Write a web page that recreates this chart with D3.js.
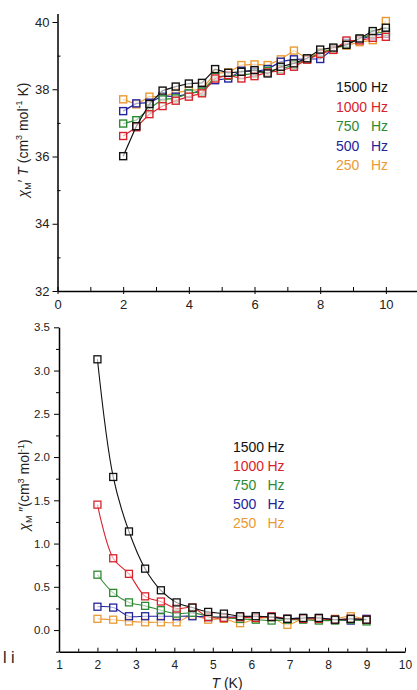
<!DOCTYPE html>
<html>
<head>
<meta charset="utf-8">
<script src="https://cdn.jsdelivr.net/npm/d3@7"></script>
<style>
  body { margin: 0; background: #fff; }
  svg { display: block; font-family: "Liberation Sans", Arial, sans-serif; }
</style>
</head>
<body>
<script>
// Frequencies and colours (legend order)
var freqs = ["1500", "1000", "750", "500", "250"];
var colors = ["#111111", "#d8232c", "#2e8a32", "#23239a", "#eb9a33"];

// chi' T data (top panel), T = 2.0 .. 10.0 step 0.4
var tTop = [2.0, 2.4, 2.8, 3.2, 3.6, 4.0, 4.4, 4.8, 5.2, 5.6, 6.0, 6.4, 6.8, 7.2, 7.6, 8.0, 8.4, 8.8, 9.2, 9.6, 10.0];
var chiT1500 = [36.01, 36.90, 37.56, 37.96, 38.08, 38.17, 38.19, 38.60, 38.49, 38.52, 38.57, 38.47, 38.67, 38.77, 38.92, 39.18, 39.24, 39.32, 39.51, 39.73, 39.83];
var chiT1000 = [36.61, 36.87, 37.26, 37.50, 37.66, 37.78, 37.88, 38.32, 38.42, 38.32, 38.39, 38.50, 38.55, 38.67, 38.88, 39.05, 39.17, 39.45, 39.45, 39.53, 39.56];
var chiT750  = [36.98, 37.08, 37.43, 37.70, 37.73, 37.88, 37.93, 38.37, 38.40, 38.42, 38.47, 38.55, 38.60, 38.72, 38.90, 39.08, 39.20, 39.35, 39.50, 39.65, 39.71];
var chiT500  = [37.35, 37.58, 37.60, 37.80, 37.78, 37.86, 37.97, 38.27, 38.32, 38.55, 38.52, 38.60, 38.82, 38.89, 38.90, 38.90, 39.20, 39.38, 39.48, 39.60, 39.65];
var chiT250  = [37.70, 37.55, 37.78, 37.78, 37.90, 37.96, 38.00, 38.47, 38.50, 38.72, 38.74, 38.72, 38.89, 39.15, 38.92, 39.10, 39.20, 39.30, 39.40, 39.46, 40.03];

// chi'' data (bottom panel), T = 2.0 .. 9.0 (18 points)
var tBot = [2.00, 2.41, 2.82, 3.24, 3.65, 4.06, 4.47, 4.88, 5.29, 5.71, 6.12, 6.53, 6.94, 7.35, 7.76, 8.18, 8.59, 9.00];
var chi1500 = [3.13, 1.77, 1.14, 0.71, 0.46, 0.32, 0.26, 0.21, 0.19, 0.16, 0.16, 0.15, 0.13, 0.14, 0.14, 0.12, 0.13, 0.12];
var chi1000 = [1.45, 0.83, 0.65, 0.39, 0.33, 0.25, 0.26, 0.15, 0.14, 0.15, 0.14, 0.16, 0.13, 0.13, 0.13, 0.12, 0.13, 0.12];
var chi750  = [0.64, 0.43, 0.32, 0.28, 0.23, 0.19, 0.20, 0.16, 0.14, 0.13, 0.12, 0.11, 0.12, 0.12, 0.11, 0.11, 0.12, 0.10];
var chi500  = [0.27, 0.26, 0.16, 0.16, 0.16, 0.16, 0.16, 0.15, 0.15, 0.15, 0.16, 0.15, 0.13, 0.14, 0.14, 0.12, 0.11, 0.13];
var chi250  = [0.13, 0.12, 0.10, 0.09, 0.09, 0.09, 0.17, 0.12, 0.13, 0.08, 0.13, 0.14, 0.06, 0.13, 0.12, 0.13, 0.16, 0.12];

var topSeries = [chiT1500, chiT1000, chiT750, chiT500, chiT250];
var botSeries = [chi1500, chi1000, chi750, chi500, chi250];

var svg = d3.select("body").append("svg")
  .attr("width", 417)
  .attr("height", 690);

// ---------- top panel ----------
var xTop = d3.scaleLinear().domain([0, 11]).range([57.5, 418.7]);
var yTop = d3.scaleLinear().domain([32, 40.25]).range([291, 13.6]);

// x axis: minor ticks inward, major ticks crossing
svg.append("g")
  .attr("transform", "translate(0,291)")
  .call(d3.axisBottom(xTop).tickValues([1, 3, 5, 7, 9]).tickSizeInner(-4).tickSizeOuter(0).tickFormat(""))
  .call(g => g.select(".domain").attr("stroke-width", 1.5));
svg.append("g")
  .attr("transform", "translate(0,291)")
  .call(d3.axisBottom(xTop).tickValues([0, 2, 4, 6, 8, 10]).tickSizeInner(3).tickSizeOuter(0).tickPadding(6).tickFormat(d3.format("d")))
  .call(g => g.select(".domain").remove())
  .call(g => g.selectAll("text").attr("font-size", 13).attr("fill", "#222"));
svg.append("g")
  .attr("transform", "translate(0,291)")
  .call(d3.axisBottom(xTop).tickValues([0, 2, 4, 6, 8, 10]).tickSizeInner(-4).tickSizeOuter(0).tickFormat(""))
  .call(g => g.select(".domain").remove());

// y axis
svg.append("g")
  .attr("transform", "translate(57.5,0)")
  .call(d3.axisLeft(yTop).tickValues([33, 35, 37, 39]).tickSizeInner(-3).tickSizeOuter(0).tickFormat(""))
  .call(g => g.select(".domain").attr("stroke-width", 1.5));
svg.append("g")
  .attr("transform", "translate(57.5,0)")
  .call(d3.axisLeft(yTop).tickValues([32, 34, 36, 38, 40]).tickSizeInner(5).tickSizeOuter(0).tickPadding(3).tickFormat(d3.format("d")))
  .call(g => g.select(".domain").remove())
  .call(g => g.selectAll("text").attr("font-size", 13).attr("fill", "#222"));

var lineTop = d3.line()
  .x((d, i) => xTop(tTop[i]))
  .y(d => yTop(d));

for (var s = topSeries.length - 1; s >= 0; s--) {
  svg.append("path")
    .datum(topSeries[s])
    .attr("fill", "none")
    .attr("stroke", colors[s])
    .attr("stroke-width", 1.2)
    .attr("d", lineTop);
  svg.append("g").selectAll("rect")
    .data(topSeries[s])
    .enter().append("rect")
    .attr("x", (d, i) => xTop(tTop[i]) - 3.5)
    .attr("y", d => yTop(d) - 3.5)
    .attr("width", 7)
    .attr("height", 7)
    .attr("fill", "white")
    .attr("fill-opacity", 0.6)
    .attr("stroke", colors[s])
    .attr("stroke-width", 1.4);
}

// top legend
var legTop = svg.append("g").attr("font-size", 14);
freqs.forEach(function(f, i) {
  var yy = 92 + i * 19.6;
  legTop.append("text").attr("x", 336).attr("y", yy).attr("fill", colors[i]).text(f);
  legTop.append("text").attr("x", 371).attr("y", yy).attr("fill", colors[i]).text("Hz");
});

// top y label
var labTop = svg.append("text")
  .attr("transform", "translate(28,140) rotate(-90)")
  .attr("text-anchor", "middle")
  .attr("font-size", 14)
  .attr("fill", "#222");
labTop.append("tspan").attr("font-style", "italic").text("\u03C7");
labTop.append("tspan").attr("font-size", 9).attr("dy", 3).text("M");
labTop.append("tspan").attr("dy", -3).text("\u2032 ");
labTop.append("tspan").attr("font-style", "italic").text("T");
labTop.append("tspan").text(" (cm");
labTop.append("tspan").attr("font-size", 9).attr("dy", -6).text("3");
labTop.append("tspan").attr("dy", 6).text(" mol");
labTop.append("tspan").attr("font-size", 9).attr("dy", -6).text("-1");
labTop.append("tspan").attr("dy", 6).text(" K)");

// ---------- bottom panel ----------
var xBot = d3.scaleLinear().domain([1, 10]).range([59, 405]);
var yBot = d3.scaleLinear().domain([-0.25, 3.5]).range([651.7, 327.3]);

var halfTicks = d3.range(1.5, 10, 1);
svg.append("g")
  .attr("transform", "translate(0,651.7)")
  .call(d3.axisBottom(xBot).tickValues(halfTicks).tickSizeInner(-3).tickSizeOuter(0).tickFormat(""))
  .call(g => g.select(".domain").attr("stroke-width", 1.5));
svg.append("g")
  .attr("transform", "translate(0,651.7)")
  .call(d3.axisBottom(xBot).tickValues(d3.range(1, 11)).tickSizeInner(-4).tickSizeOuter(0).tickPadding(9).tickFormat(d3.format("d")))
  .call(g => g.select(".domain").remove())
  .call(g => g.selectAll("text").attr("font-size", 12).attr("fill", "#222"));

svg.append("g")
  .attr("transform", "translate(59,0)")
  .call(d3.axisLeft(yBot).tickValues([-0.25, 0.25, 0.75, 1.25, 1.75, 2.25, 2.75, 3.25]).tickSizeInner(3).tickSizeOuter(0).tickFormat(""))
  .call(g => g.select(".domain").attr("stroke-width", 1.5));
svg.append("g")
  .attr("transform", "translate(59,0)")
  .call(d3.axisLeft(yBot).tickValues([0, 0.5, 1, 1.5, 2, 2.5, 3, 3.5]).tickSizeInner(5).tickSizeOuter(0).tickPadding(4).tickFormat(d3.format(".1f")))
  .call(g => g.select(".domain").remove())
  .call(g => g.selectAll("text").attr("font-size", 11.5).attr("fill", "#222"));

var lineBot = d3.line()
  .x((d, i) => xBot(tBot[i]))
  .y(d => yBot(d))
  .curve(d3.curveCatmullRom.alpha(0.5));

for (var k = botSeries.length - 1; k >= 0; k--) {
  svg.append("path")
    .datum(botSeries[k])
    .attr("fill", "none")
    .attr("stroke", colors[k])
    .attr("stroke-width", 1.1)
    .attr("d", lineBot);
  svg.append("g").selectAll("rect")
    .data(botSeries[k])
    .enter().append("rect")
    .attr("x", (d, i) => xBot(tBot[i]) - 3.5)
    .attr("y", d => yBot(d) - 3.5)
    .attr("width", 7)
    .attr("height", 7)
    .attr("fill", "white")
    .attr("fill-opacity", 0.6)
    .attr("stroke", colors[k])
    .attr("stroke-width", 1.3);
}

// bottom legend
var legBot = svg.append("g").attr("font-size", 14);
freqs.forEach(function(f, i) {
  var yy = 451.5 + i * 19;
  legBot.append("text").attr("x", 233).attr("y", yy).attr("fill", colors[i]).text(f);
  legBot.append("text").attr("x", 267.5).attr("y", yy).attr("fill", colors[i]).text("Hz");
});

// bottom y label
var labBot = svg.append("text")
  .attr("transform", "translate(29,485) rotate(-90)")
  .attr("text-anchor", "middle")
  .attr("font-size", 14)
  .attr("fill", "#222");
labBot.append("tspan").attr("font-style", "italic").text("\u03C7");
labBot.append("tspan").attr("font-size", 9).attr("dy", 3).text("M");
labBot.append("tspan").attr("dy", -3).text(" \u2033(cm");
labBot.append("tspan").attr("font-size", 9).attr("dy", -5).text("3");
labBot.append("tspan").attr("dy", 5).text(" mol");
labBot.append("tspan").attr("font-size", 9).attr("dy", -5).text("-1");
labBot.append("tspan").attr("dy", 5).text(")");

// x label
var labX = svg.append("text")
  .attr("x", 227)
  .attr("y", 688)
  .attr("text-anchor", "middle")
  .attr("font-size", 14)
  .attr("fill", "#222");
labX.append("tspan").attr("font-style", "italic").text("T");
labX.append("tspan").text(" (K)");

// stray glyphs at lower left of the original
svg.append("text")
  .attr("x", 3)
  .attr("y", 663)
  .attr("font-size", 16)
  .attr("fill", "#222")
  .text("l i");
</script>
</body>
</html>
